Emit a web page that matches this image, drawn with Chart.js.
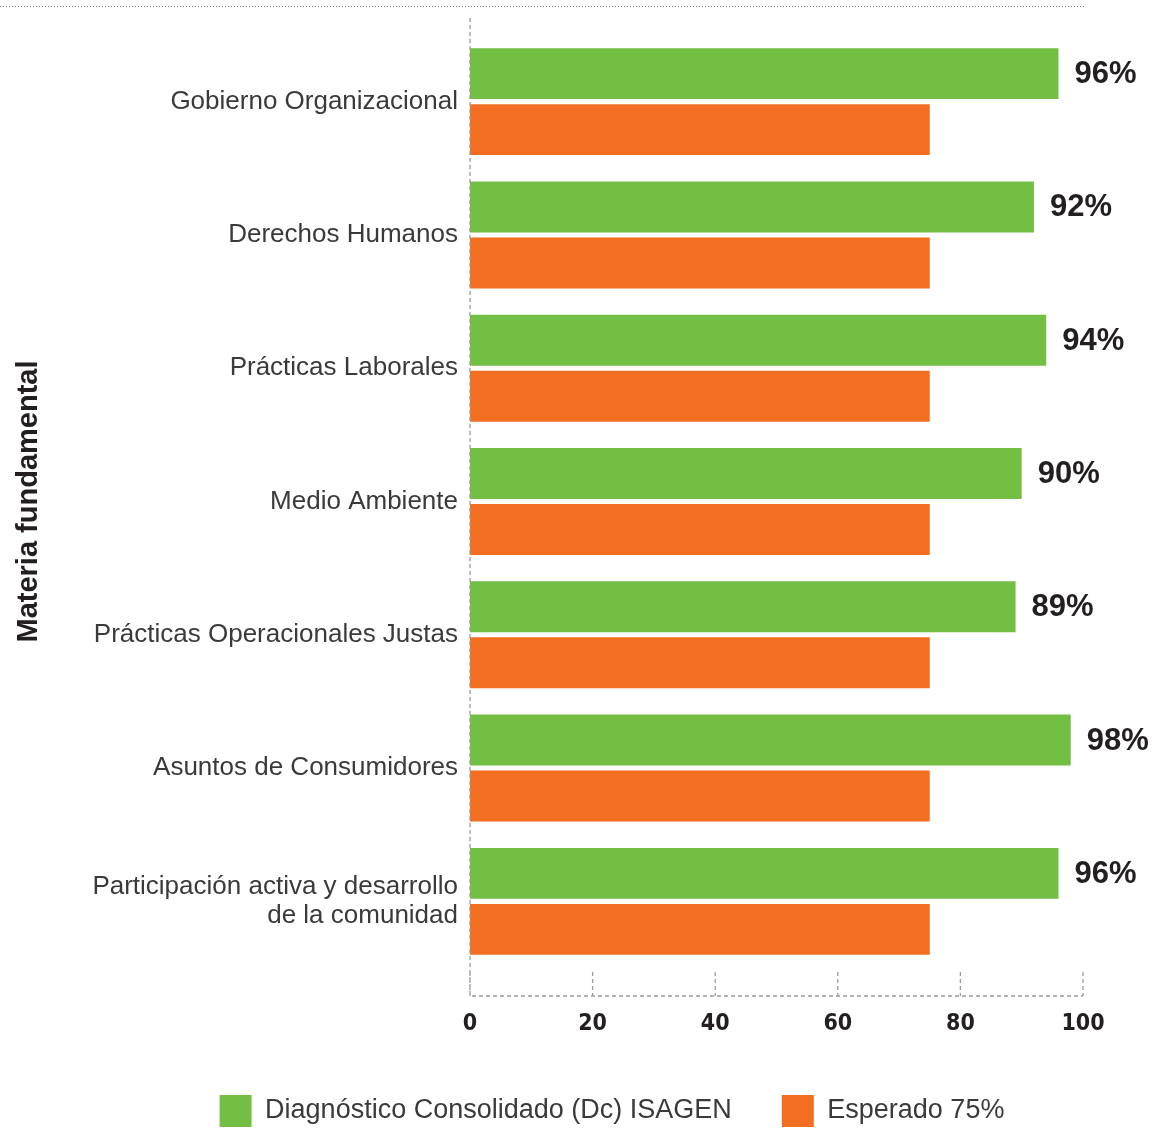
<!DOCTYPE html>
<html>
<head>
<meta charset="utf-8">
<script src="https://cdn.jsdelivr.net/npm/chart.js@4.4.0/dist/chart.umd.min.js"></script>
<style>
  html, body { margin: 0; padding: 0; background: #fff; }
  #wrap { width: 1170px; height: 1128px; position: relative; }
</style>
</head>
<body>
<div id="wrap"><canvas id="chart"></canvas></div>
<script>
const categories = [
  'Gobierno Organizacional',
  'Derechos Humanos',
  'Prácticas Laborales',
  'Medio Ambiente',
  'Prácticas Operacionales Justas',
  'Asuntos de Consumidores',
  ['Participación activa y desarrollo', 'de la comunidad']
];
const diagnostico = [96, 92, 94, 90, 89, 98, 96];
const esperado = [75, 75, 75, 75, 75, 75, 75];
const seriesNames = ['Diagnóstico Consolidado (Dc) ISAGEN', 'Esperado 75%'];
const xTicks = [0, 20, 40, 60, 80, 100];

const GREEN = '#72bf44';
const ORANGE = '#f26f21';
const INK = '#231f20';

// value labels after the green bars
const valueLabels = {
  id: 'valueLabels',
  afterDatasetsDraw(chart) {
    const ctx = chart.ctx;
    const meta = chart.getDatasetMeta(0);
    ctx.save();
    ctx.font = 'bold 31px "Liberation Sans", Arial, sans-serif';
    ctx.fillStyle = INK;
    ctx.textAlign = 'left';
    ctx.textBaseline = 'middle';
    meta.data.forEach((bar, i) => {
      ctx.fillText(diagnostico[i] + '%', bar.x + 16, bar.y + 1);
    });
    ctx.restore();
  }
};

// dashed axis frame and short tick marks, dotted rule at the top
const frame = {
  id: 'frame',
  afterLayout(chart) {
    // legend sits a bit right of the canvas centre in the original
    chart.legend.left = 141;
  },
  afterDraw(chart) {
    const ctx = chart.ctx;
    const x = chart.scales.x;
    const area = chart.chartArea;
    const base = area.bottom + 28;
    ctx.save();
    ctx.strokeStyle = '#9a9a9a';
    ctx.lineWidth = 1.3;
    ctx.setLineDash([4, 3]);
    ctx.beginPath();
    ctx.moveTo(area.left, 18);
    ctx.lineTo(area.left, base);
    ctx.lineTo(area.right, base);
    xTicks.forEach(v => {
      const px = x.getPixelForValue(v);
      ctx.moveTo(px, area.bottom + 4);
      ctx.lineTo(px, base);
    });
    ctx.stroke();
    ctx.setLineDash([1, 2]);
    ctx.strokeStyle = '#777';
    ctx.lineWidth = 1;
    ctx.beginPath();
    ctx.moveTo(0, 6.5);
    ctx.lineTo(area.right + 2, 6.5);
    ctx.stroke();
    ctx.restore();
  }
};

new Chart(document.getElementById('chart'), {
  type: 'bar',
  data: {
    labels: categories,
    datasets: [
      { label: seriesNames[0], data: diagnostico, backgroundColor: GREEN },
      { label: seriesNames[1], data: esperado, backgroundColor: ORANGE }
    ]
  },
  options: {
    indexAxis: 'y',
    responsive: true,
    maintainAspectRatio: false,
    animation: false,
    categoryPercentage: 0.84,
    barPercentage: 0.91,
    layout: { padding: { top: 35, right: 87, left: 0, bottom: -9 } },
    scales: {
      x: {
        min: 0, max: 100,
        afterBuildTicks: s => { s.ticks = xTicks.map(v => ({ value: v })); },
        grid: { display: false, drawTicks: false },
        border: { display: false },
        ticks: {
          padding: 42,
          color: INK,
          font: { family: '"Liberation Sans Narrow", "DejaVu Sans Condensed", sans-serif', size: 23, weight: 'bold' }
        },
        afterFit: s => {
          s.height = s.chart.height + 9 - 968 - s.chart.legend.height;
          s.paddingLeft = 0;
          s.paddingRight = 0;
        }
      },
      y: {
        grid: { display: false, drawTicks: false },
        border: { display: false },
        ticks: {
          padding: 12,
          color: '#3a3a3a',
          font: { family: '"Liberation Sans", Arial, sans-serif', size: 26, weight: 'normal', lineHeight: 1.1 }
        },
        title: {
          display: true,
          text: 'Materia fundamental',
          color: INK,
          padding: { top: 12, bottom: 0 },
          font: { family: '"Liberation Sans", Arial, sans-serif', size: 29, weight: 'bold' }
        },
        afterFit: s => {
          s.width = 470;
          s.paddingTop = 0;
          s.paddingBottom = 0;
        }
      }
    },
    plugins: {
      legend: {
        position: 'bottom',
        labels: {
          boxWidth: 32,
          boxHeight: 32,
          padding: 50,
          color: '#3a3a3a',
          font: { family: '"Liberation Sans", Arial, sans-serif', size: 27, weight: 'normal' }
        }
      },
      tooltip: { enabled: false }
    }
  },
  plugins: [valueLabels, frame]
});
</script>
</body>
</html>
